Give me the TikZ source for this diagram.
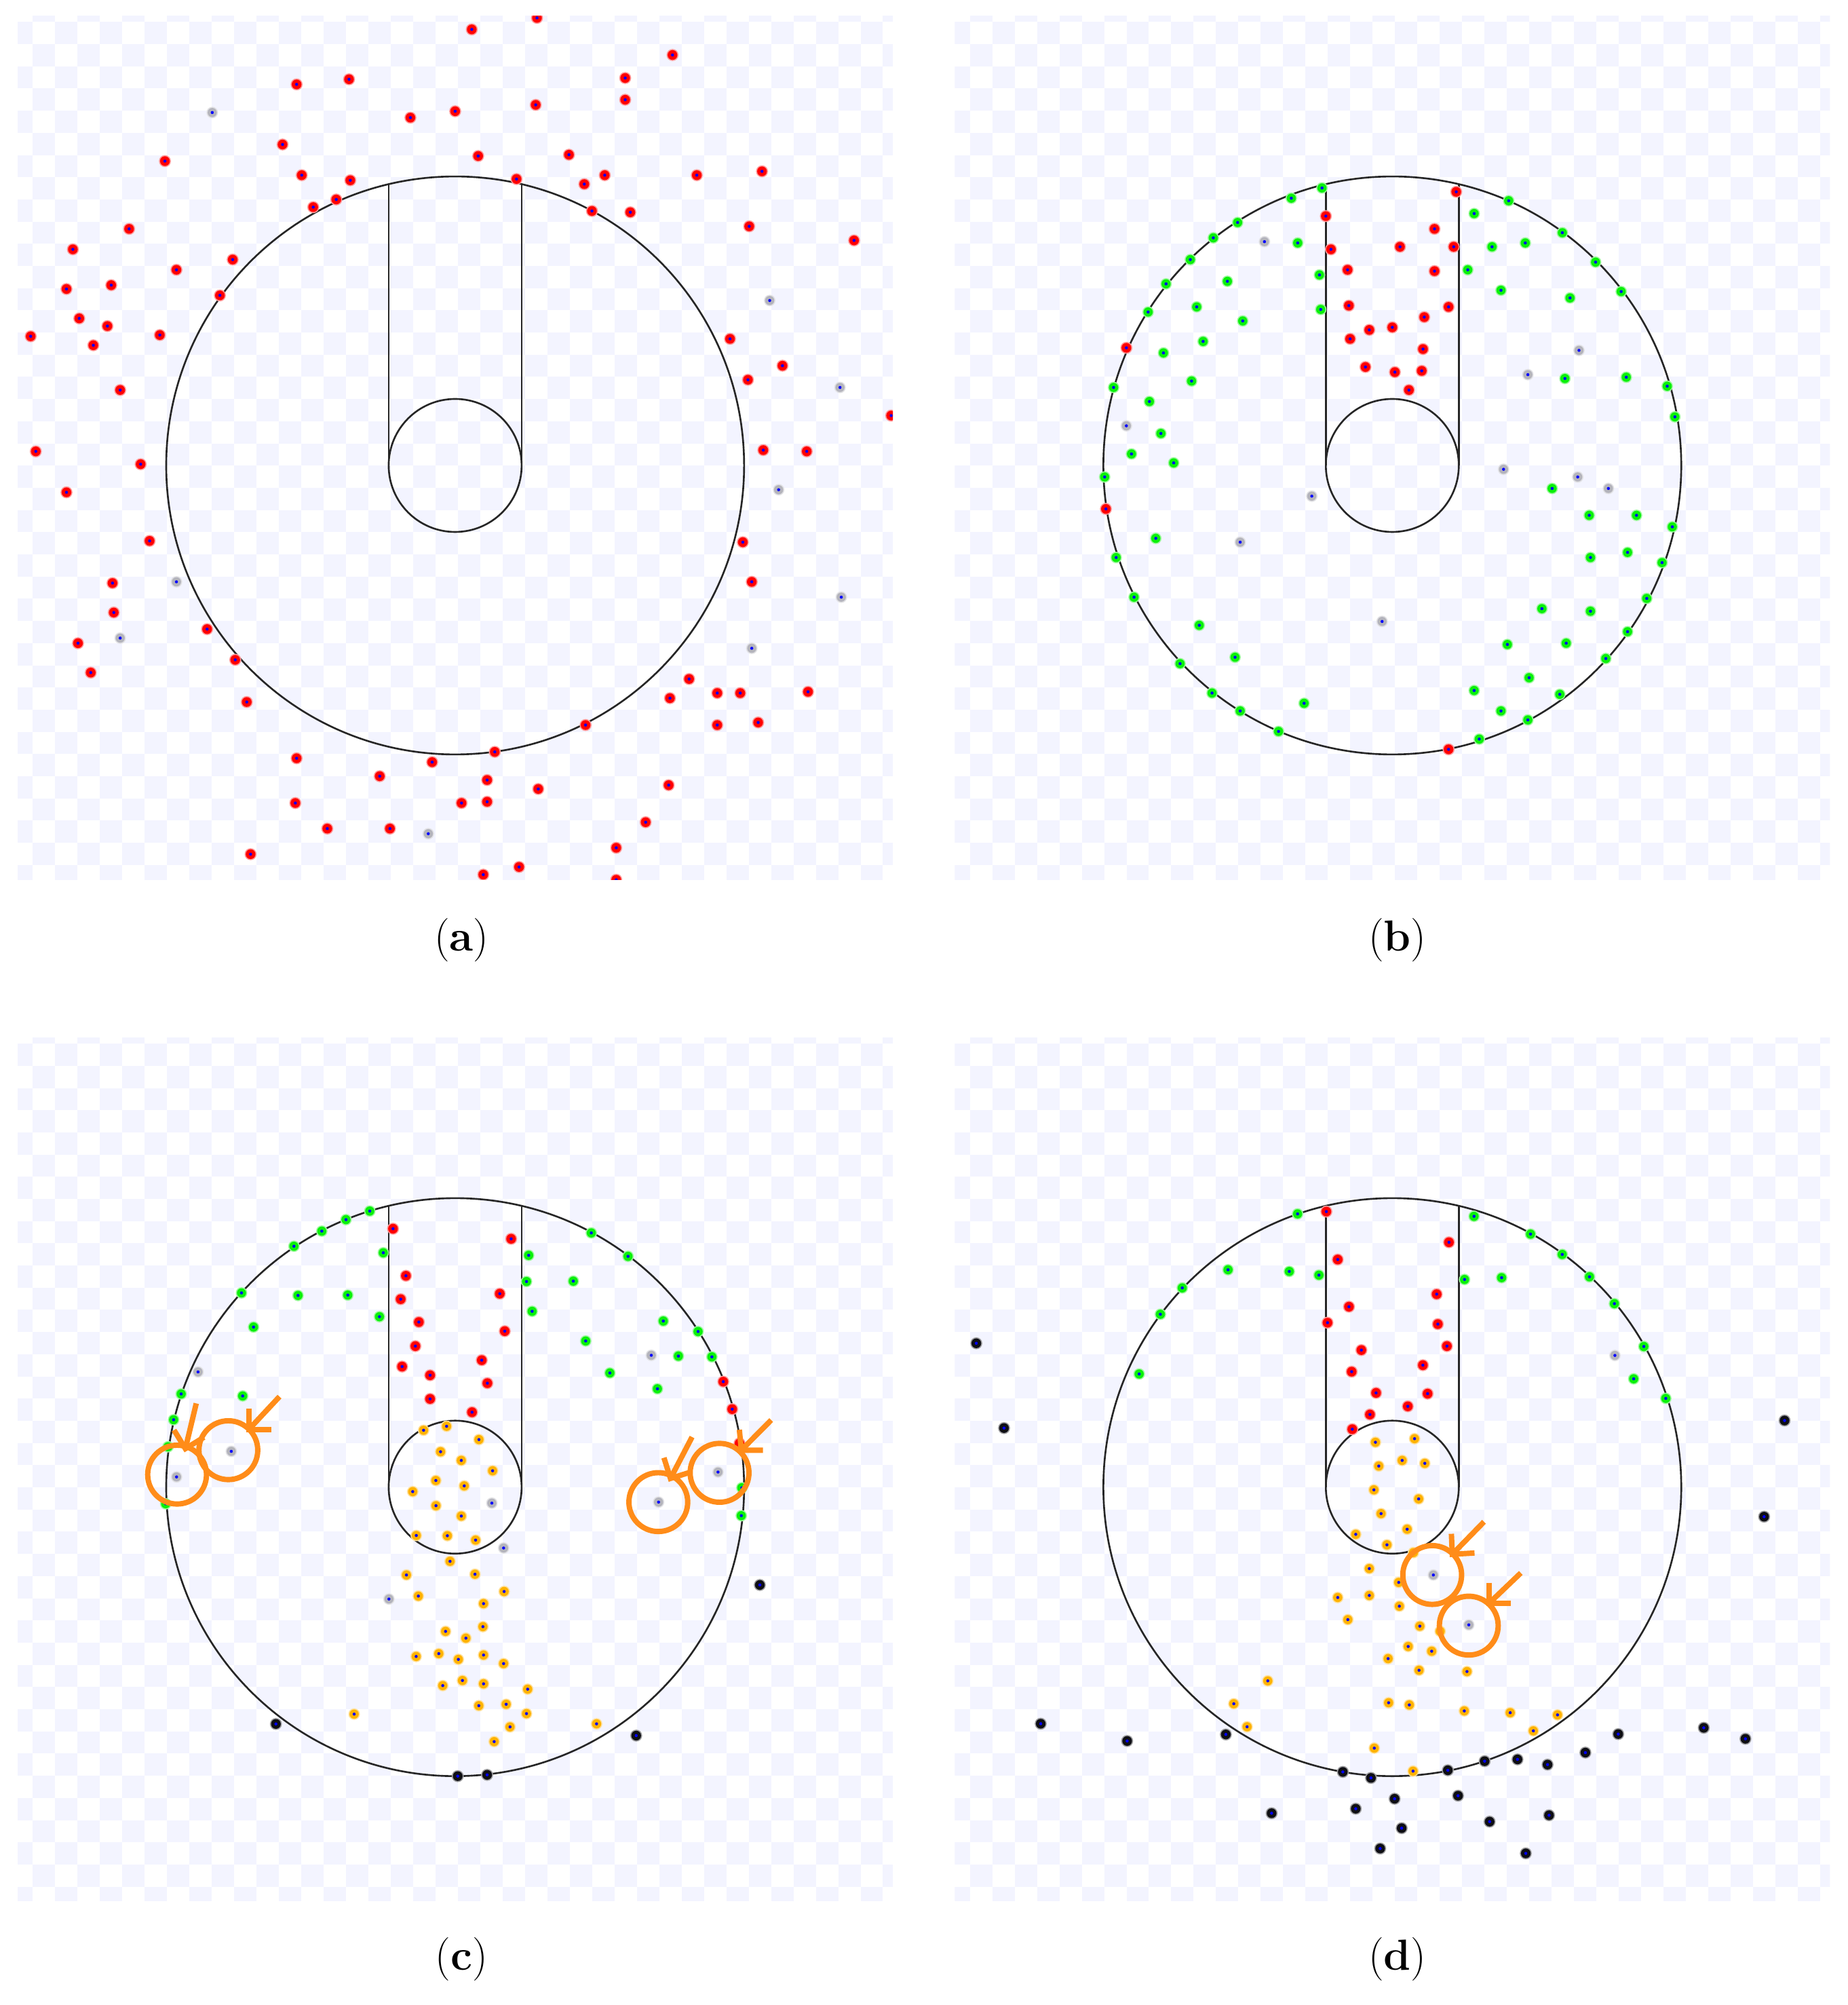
\documentclass[tikz,border=0pt]{standalone}
\usetikzlibrary{calc}
\definecolor{chk}{RGB}{243,244,255}
\definecolor{dred}{RGB}{255,0,0}
\definecolor{dgreen}{RGB}{10,240,10}
\definecolor{dgray}{RGB}{180,180,188}
\definecolor{dorange}{RGB}{255,178,0}
\definecolor{dblack}{RGB}{15,15,20}
\definecolor{dcore}{RGB}{0,0,255}
\definecolor{orng}{RGB}{255,140,25}
\tikzset{
  geom/.style={draw=black!85,line width=0.7pt},
  ring/.style={circle,draw=orng,line width=2.1pt,minimum size=23pt,inner sep=0pt,outer sep=0pt},
  arw/.style={draw=orng,line width=2.1pt,line join=miter},
  lab/.style={font=\fontsize{17}{20}\selectfont,inner sep=0pt}
}
\newcommand\checkpanel[2]{%
  \begin{scope}
  \clip (#1,#2) rectangle ++(684.5,675);
  \foreach \r in {0,...,39}{%
    \pgfmathtruncatemacro\cs{mod(\r+1,2)}%
    \pgfmathtruncatemacro\ct{\cs+2}%
    \foreach \c in {\cs,\ct,...,40}{%
      \fill[chk] ({#1+11.8+17.5*(\c-1)},{#2+4.45+17.35*(\r-1)}) rectangle ++(17.5,17.35);
    }%
  }%
  \end{scope}}
\newcommand\panelshape[2]{%
  \draw[geom] (#1,#2) circle[radius=113pt];
  \draw[geom] (#1,#2) circle[radius=26pt];
  \draw[geom] ({#1-52},{#2-219.9}) -- ({#1-52},#2);
  \draw[geom] ({#1+52},{#2-219.9}) -- ({#1+52},#2);}
\newcommand\plotdots[3]{%
  \foreach \p in {#3}{%
    \fill[#1!40] \p circle[radius={#2+0.45pt}];
    \fill[#1] \p circle[radius=#2];
    \fill[dcore] \p circle[radius=0.6pt];}}
\begin{document}
\begin{tikzpicture}[x=0.5pt,y=-0.5pt]
\useasboundingbox (0,0) rectangle (1445,1568);
\fill[white] (0,0) rectangle (1445,1568);
\checkpanel{13.8}{12.7}
\checkpanel{746.8}{12.7}
\checkpanel{13.8}{811.7}
\checkpanel{746.8}{811.7}

% ---------------- panel (a)
\begin{scope}
\clip (13.8,12.7) rectangle ++(684.5,675);
\panelshape{356}{364}
\plotdots{dred}{1.9pt}{(369,23),(420,14),(526,43),(489,61),(232,66),(273,62),(489,78),(419,82),(356,87),(321,92),(221,113),(374,122),(445,121),(129,126),(236,137),(274,141),(404,140),(473,137),(457,144),(545,137),(596,134),(263,156),(245,162),(463,165),(493,166),(586,177),(101,179),(668,188),(57,195),(182,203),(138,211),(52,226),(87,223),(172,231),(62,249),(84,255),(24,263),(73,270),(125,262),(571,265),(612,286),(585,297),(94,305),(697,325),(28,353),(597,352),(631,353),(110,363),(52,385),(117,423),(581,424),(88,456),(588,455),(89,479),(162,492),(61,503),(184,516),(71,526),(539,531),(524,546),(561,542),(579,542),(632,541),(193,549),(458,567),(561,567),(593,565),(387,588),(232,593),(338,596),(297,607),(381,610),(421,617),(523,614),(231,628),(361,628),(381,627),(505,643),(256,648),(305,648),(482,663),(196,668),(406,678),(378,684),(482,688)}
\plotdots{dgray}{1.8pt}{(166,88),(602,235),(657,303),(609,383),(138,455),(94,499),(588,507),(658,467),(335,652)}
\end{scope}

% ---------------- panel (b)
\begin{scope}
\clip (746.8,12.7) rectangle ++(684.5,675);
\panelshape{1089}{364}
\plotdots{dgreen}{1.8pt}{(1010,155),(1034,147),(968,174),(949,186),(931,203),(912,222),(898,244),(871,303),(864,373),(873,436),(887,467),(923,519),(948,542),(970,556),(1000,572),(1157,578),(1195,563),(1220,543),(1256,515),(1273,494),(1288,468),(1300,440),(1308,412),(1310,326),(1304,302),(1268,228),(1248,205),(1222,182),(1180,157),(1153,167),(1015,190),(1032,215),(1033,242),(1167,193),(1148,211),(1193,190),(1174,227),(1228,233),(960,220),(936,240),(972,251),(910,276),(941,267),(932,298),(899,314),(908,339),(885,355),(918,362),(1224,296),(1272,295),(1214,382),(1243,403),(1280,403),(1244,436),(1273,432),(1206,476),(1244,478),(1225,503),(1179,504),(1196,530),(1153,540),(1174,556),(938,489),(966,514),(1020,550),(904,421)}
\plotdots{dred}{1.9pt}{(1037,169),(1041,195),(1054,211),(1055,239),(1056,265),(1071,258),(1089,256),(1114,248),(1133,240),(1122,212),(1095,193),(1137,193),(1122,179),(1139,150),(1113,273),(1068,287),(1091,291),(1112,290),(1102,305),(881,272),(865,398),(1133,586)}
\plotdots{dgray}{1.8pt}{(989,189),(1235,274),(1195,293),(881,333),(1176,367),(1234,373),(1258,382),(1026,388),(970,424),(1081,486)}
\end{scope}

% ---------------- panel (c)
\begin{scope}
\clip (13.8,811.7) rectangle ++(684.5,675);
\panelshape{356}{1163}
\plotdots{dgreen}{1.8pt}{(289.2,947.1),(299.8,979.7),(413.5,981.7),(411.8,1002.2),(296.8,1029.7),(416.2,1025.5),(270.6,953.8),(251.7,962.8),(229.9,974.6),(188.9,1011.1),(233.1,1013.1),(272,1012.8),(198.3,1037.8),(141.7,1090.1),(189.8,1091.7),(135.8,1110.3),(131.4,1131.4),(129.6,1176),(462.5,964.2),(491.2,982.5),(448.4,1001.9),(518.8,1033.1),(546,1041.3),(458.1,1048.7),(530.6,1060.5),(556.8,1061.1),(477,1073.7),(514.2,1086.1),(580.2,1163.5),(579.8,1185.3)}
\plotdots{dred}{1.9pt}{(307.4,960.9),(399.8,968.8),(317.5,997.7),(313.4,1016),(390.9,1011.7),(327.6,1033.9),(394.8,1041),(324.9,1052.7),(376.8,1063.7),(314.5,1068.7),(336.4,1075.5),(381.2,1081.7),(336.4,1094),(369.2,1104.4),(565.7,1080.5),(572.7,1102),(578.4,1128.8)}
\plotdots{dorange}{1.8pt}{(331.3,1118.5),(349.3,1115.4),(374.6,1125.8),(344.6,1135.3),(360.8,1142.1),(385.3,1150.2),(340.9,1157.8),(363.1,1162),(322.8,1166.5),(341,1177.5),(360.8,1185.6),(325.6,1200.8),(349.9,1201),(372,1204.4),(352,1221),(317.9,1231.7),(371.5,1231.1),(327.2,1248.2),(394.3,1244.6),(378.2,1254.1),(377.7,1272.1),(348.5,1275.8),(364.4,1281.1),(325.5,1295.4),(343.2,1293.2),(358.5,1297.7),(378.2,1294.3),(393.9,1301),(346.3,1318.2),(361.7,1314.2),(378.2,1316.8),(412.7,1321),(277,1340.5),(374.5,1333.9),(395.9,1332.8),(411.8,1340.1),(398.9,1350.5),(386.5,1362),(466.6,1348.1)}
\plotdots{dgray}{1.8pt}{(384.7,1175.5),(393.9,1210.6),(304.2,1250.5),(154.9,1072.9),(180.9,1135),(138.1,1155),(509.4,1059.9),(561.6,1151.2),(515.1,1174.7)}
\plotdots{dblack}{1.9pt}{(215.8,1348.2),(358,1389),(381,1388),(497.6,1357.3),(594.3,1239.5)}
\node[ring] (c1) at (138.5,1153.2) {};
\node[ring] (c2) at (178.6,1134.1) {};
\node[ring] (c3) at (514.9,1174.7) {};
\node[ring] (c4) at (562.8,1151.8) {};
\draw[arw] ($(c1)+(6.5,-20.3)$) coordinate (k1) -- ++(8.5,-35.4);
\draw[arw] ($(k1)+(-8.9,-14.5)$) -- (k1) -- ++(14.5,-8.9);
\draw[arw] ($(c2)+(16,-16.2)$) coordinate (k2) -- ++(24,-25.7);
\draw[arw] ($(k2)+(0,-16.5)$) -- (k2) -- ++(17.5,0);
\draw[arw] ($(c3)+(9.5,-18.5)$) coordinate (k3) -- ++(16.9,-32.4);
\draw[arw] ($(k3)+(-5.1,-16.2)$) -- (k3) -- ++(16.2,-5.1);
\draw[arw] ($(c4)+(17,-17.7)$) coordinate (k4) -- ++(23.4,-23.6);
\draw[arw] ($(k4)+(-1.5,-16)$) -- (k4) -- ++(17,0);
\end{scope}

% ---------------- panel (d)
\begin{scope}
\clip (746.8,811.7) rectangle ++(684.5,675);
\panelshape{1089}{1163}
\plotdots{dgreen}{1.8pt}{(1014.9,949.3),(1152.9,951.2),(1197.1,965.1),(1221.9,981),(1031.6,997.2),(1145.5,1000.6),(1174.5,999.2),(1243.2,998.5),(960.5,993),(1008.4,994.3),(924.7,1007.2),(907.6,1027.8),(891,1074.5),(1262.7,1019.5),(1285.7,1053),(1277.8,1078.3),(1302.9,1093.6)}
\plotdots{dred}{1.9pt}{(1037.4,947.5),(1133.3,971.5),(1046.3,985),(1123.7,1012.1),(1055.1,1021.9),(1038.3,1034.4),(1124.6,1035.5),(1064.8,1055.8),(1131.7,1052.7),(1057.2,1072.7),(1112.9,1067.6),(1076.3,1089.3),(1116.6,1089.9),(1101.1,1099.8),(1071.5,1106.2),(1057.7,1117.7)}
\plotdots{dorange}{1.8pt}{(1075.8,1127.9),(1106.4,1125.1),(1078.4,1146.5),(1096.7,1142.1),(1114.4,1144.4),(1074.6,1165.1),(1109.6,1172.2),(1080.2,1183.7),(1100.6,1195.9),(1060.4,1199.9),(1084.8,1208.1),(1105.5,1214.2),(1071,1226.7),(1094,1237.5),(1046.3,1249.3),(1071,1247.7),(1094.5,1256.1),(1054.2,1266.6),(1110.5,1271.7),(1126.4,1275.7),(1101.4,1287.6),(1119.8,1291.3),(1085.7,1297.1),(1109.9,1306.2),(1147.4,1307.2),(1086.1,1331.6),(1102.3,1333.3),(1145.3,1338),(1181.2,1339.4),(1218.2,1341.1),(1199.3,1353.6),(1074.9,1367.1),(1105.2,1385.1),(965,1332.4),(991.6,1314.5),(975.4,1350.4)}
\plotdots{dgray}{1.8pt}{(1121.1,1231.7),(1148.8,1270.7),(1263.1,1060)}
\plotdots{dblack}{1.9pt}{(1050.3,1385.7),(1072.3,1390.4),(1132.4,1384.4),(1161.2,1377.3),(1186.9,1375.9),(1210.4,1380),(1240,1370.6),(1090.8,1406.7),(1060.4,1414.5),(1140.4,1404.3),(1096.3,1429.7),(1165.1,1424.6),(1211.6,1419.6),(1079.5,1445.6),(1193.4,1449.4),(763.6,1050.5),(785.3,1116.8),(814,1348),(881.6,1361.5),(958.8,1356.4),(994.6,1418),(1395.8,1110.9),(1379.8,1186.1),(1265.7,1356.1),(1332.6,1351.2),(1365.2,1359.8)}
\node[ring] (d1) at (1120.2,1231.7) {};
\node[ring] (d2) at (1148.8,1271.3) {};
\draw[arw] ($(d1)+(15.7,-16.2)$) coordinate (m1) -- ++(24.8,-25.4);
\draw[arw] ($(m1)+(-0.7,-16)$) -- (m1) -- ++(17.4,-1);
\draw[arw] ($(d2)+(16,-17.6)$) coordinate (m2) -- ++(24.7,-23.6);
\draw[arw] ($(m2)+(0,-16)$) -- (m2) -- ++(17,0);
\end{scope}

% ---------------- labels
\node[lab] (la) at (361,735) {(\textbf{a})};
\node[lab] (lb) at (1093,735) {(\textbf{b})};
\node[lab] (lc) at (361,1532) {(\textbf{c})};
\node[lab] (ld) at (1093,1532) {(\textbf{d})};
\end{tikzpicture}
\end{document}
